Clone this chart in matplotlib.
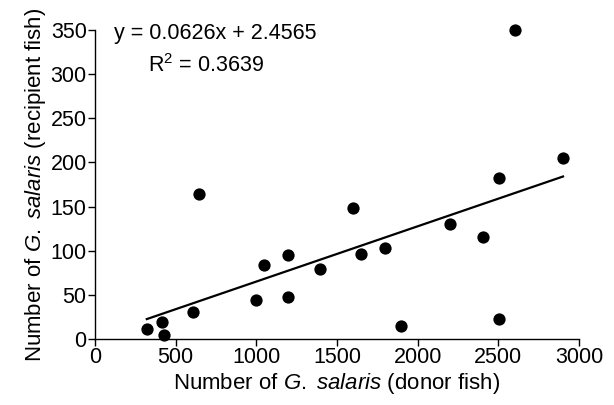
import matplotlib
matplotlib.use("Agg")
import matplotlib.pyplot as plt
import numpy as np

plt.rcParams['font.family'] = ['Liberation Sans', 'DejaVu Sans']
plt.rcParams['mathtext.fontset'] = 'custom'
plt.rcParams['mathtext.rm'] = 'Liberation Sans'
plt.rcParams['mathtext.it'] = 'Liberation Sans:italic'

donor = [321, 418, 428, 610, 647, 997, 1050, 1197, 1197, 1396, 1600, 1650,
         1799, 1898, 2202, 2403, 2502, 2502, 2601, 2901]
recipient = [11, 19, 4, 31, 164, 44, 84, 95, 48, 79, 148, 96,
             103, 15, 130, 115, 182, 23, 350, 205]
slope = 0.0626
intercept = 2.4565
r2 = 0.3639
x_ticks = [0, 500, 1000, 1500, 2000, 2500, 3000]
y_ticks = [0, 50, 100, 150, 200, 250, 300, 350]

W, H = 614, 405
fig = plt.figure(figsize=(W / 100, H / 100), dpi=100)
ax = fig.add_axes([95 / W, (H - 339) / H, (579 - 95) / W, (339 - 30) / H])

ax.scatter(donor, recipient, s=78, color='black', zorder=3, linewidths=0, clip_on=False)
xl = np.array([min(donor), max(donor)])
ax.plot(xl, slope * xl + intercept, color='black', lw=1.6)

ax.set_xlim(0, 3000)
ax.set_ylim(0, 350)
ax.set_xticks(x_ticks)
ax.set_yticks(y_ticks)
for s in ['top', 'right']:
    ax.spines[s].set_visible(False)
for s in ['left', 'bottom']:
    ax.spines[s].set_linewidth(1.0)
ax.tick_params(direction='out', length=5, width=1.0, labelsize=15.5, pad=1)

ax.set_xlabel('Number of $\\it{G.}$ $\\it{salaris}$ (donor fish)', fontsize=16, labelpad=2)
ax.set_ylabel('Number of $\\it{G.}$ $\\it{salaris}$ (recipient fish)', fontsize=16, labelpad=2)

fig.text(114 / W, 1 - 34 / H, 'y = 0.0626x + 2.4565', fontsize=15.5, va='center', ha='left')
fig.text(148 / W, 1 - 66 / H, 'R$^2$ = ' + f'{r2:.4f}', fontsize=15.5, va='center', ha='left')

fig.savefig('out.png', dpi=100)
